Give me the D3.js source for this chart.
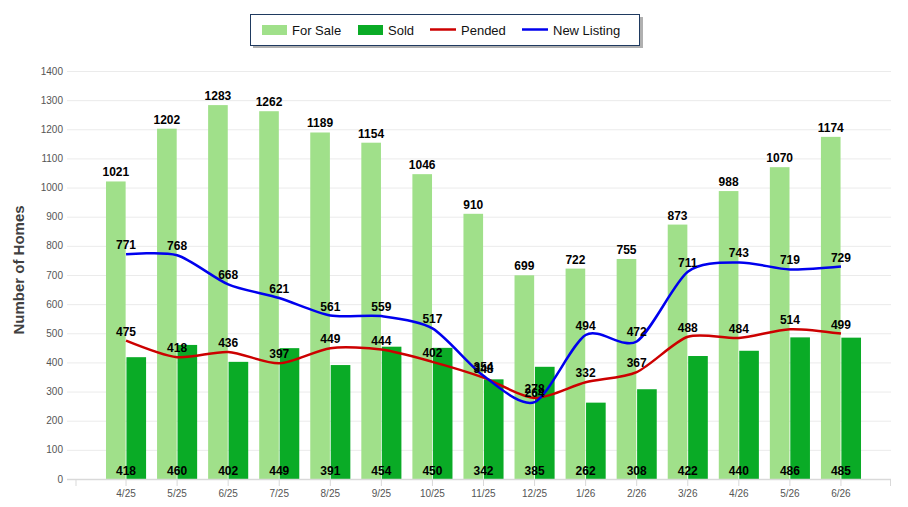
<!DOCTYPE html>
<html>
<head>
<meta charset="utf-8">
<script src="https://cdn.jsdelivr.net/npm/d3@7"></script>
<style>
  body { margin: 0; background: #fff; }
  svg { display: block; font-family: "Liberation Sans", Arial, sans-serif; }
</style>
</head>
<body>
<div id="chart"></div>
<script>

// Monthly market data
var months = ["4/25", "5/25", "6/25", "7/25", "8/25", "9/25", "10/25", "11/25",
              "12/25", "1/26", "2/26", "3/26", "4/26", "5/26", "6/26"];
var forSale = [1021, 1202, 1283, 1262, 1189, 1154, 1046, 910, 699, 722, 755, 873, 988, 1070, 1174];
var sold = [418, 460, 402, 449, 391, 454, 450, 342, 385, 262, 308, 422, 440, 486, 485];
var pended = [475, 418, 436, 397, 449, 444, 402, 348, 278, 332, 367, 488, 484, 514, 499];
var newListing = [771, 768, 668, 621, 561, 559, 517, 354, 264, 494, 472, 711, 743, 719, 729];
var yTicks = [0, 100, 200, 300, 400, 500, 600, 700, 800, 900, 1000, 1100, 1200, 1300, 1400];

var W = 908, H = 507;
var plotLeft = 67, plotRight = 891, plotTop = 71, plotBottom = 479;

var colors = {
  forSale: "#a0e08a",
  sold: "#0aab26",
  pended: "#cc0000",
  newListing: "#0000ee"
};

var svg = d3.select("#chart")
  .append("svg")
  .attr("width", W)
  .attr("height", H);

var x = d3.scaleBand()
  .domain(months)
  .range([100.5, 866.5])
  .paddingInner(0.215)
  .paddingOuter(0.1075);

var x1 = d3.scaleBand()
  .domain(["forSale", "sold"])
  .range([0, x.bandwidth()])
  .paddingInner(0.04);

var y = d3.scaleLinear()
  .domain([0, 1400])
  .range([plotBottom, plotTop]);

var cx = d => x(d) + x.bandwidth() / 2;

// gridlines
svg.append("g")
  .selectAll("line")
  .data(yTicks.slice(1))
  .enter()
  .append("line")
  .attr("x1", plotLeft)
  .attr("x2", plotRight)
  .attr("y1", d => y(d) + 0.5)
  .attr("y2", d => y(d) + 0.5)
  .attr("stroke", "#ebebeb")
  .attr("stroke-width", 1);

// y tick labels
svg.append("g")
  .selectAll("text")
  .data(yTicks)
  .enter()
  .append("text")
  .attr("x", 63)
  .attr("y", d => y(d) + 3.5)
  .attr("text-anchor", "end")
  .attr("font-size", "10px")
  .attr("fill", "#555")
  .text(d => d);

// axis title
svg.append("text")
  .attr("transform", "translate(24,270) rotate(-90)")
  .attr("text-anchor", "middle")
  .attr("font-size", "15px")
  .attr("font-weight", "bold")
  .attr("fill", "#404040")
  .text("Number of Homes");

// bars
var groups = svg.append("g")
  .selectAll("g")
  .data(months)
  .enter()
  .append("g")
  .attr("transform", d => "translate(" + x(d) + ",0)");

groups.append("rect")
  .attr("x", x1("forSale"))
  .attr("width", x1.bandwidth())
  .attr("y", (d, i) => y(forSale[i]))
  .attr("height", (d, i) => plotBottom - y(forSale[i]))
  .attr("fill", colors.forSale);

groups.append("rect")
  .attr("x", x1("sold"))
  .attr("width", x1.bandwidth())
  .attr("y", (d, i) => y(sold[i]))
  .attr("height", (d, i) => plotBottom - y(sold[i]))
  .attr("fill", colors.sold);

// x axis line + ticks
svg.append("line")
  .attr("x1", plotLeft)
  .attr("x2", plotRight)
  .attr("y1", plotBottom + 0.5)
  .attr("y2", plotBottom + 0.5)
  .attr("stroke", "#d9d9d9")
  .attr("stroke-width", 1.5);

var tickXs = [76].concat(months.map(cx)).concat([plotRight - 0.5]);
svg.append("g")
  .selectAll("line")
  .data(tickXs)
  .enter()
  .append("line")
  .attr("x1", d => d)
  .attr("x2", d => d)
  .attr("y1", plotBottom)
  .attr("y2", plotBottom + 7)
  .attr("stroke", "#d9d9d9");

svg.append("g")
  .selectAll("text")
  .data(months)
  .enter()
  .append("text")
  .attr("x", d => cx(d))
  .attr("y", 497)
  .attr("text-anchor", "middle")
  .attr("font-size", "10px")
  .attr("fill", "#555")
  .text(d => d);

// lines
var line = d3.line()
  .x((d, i) => cx(months[i]))
  .y(d => y(d))
  .curve(d3.curveCardinal.tension(0.2));

svg.append("path")
  .datum(pended)
  .attr("d", line)
  .attr("fill", "none")
  .attr("stroke", colors.pended)
  .attr("stroke-width", 2.5);

svg.append("path")
  .datum(newListing)
  .attr("d", line)
  .attr("fill", "none")
  .attr("stroke", colors.newListing)
  .attr("stroke-width", 2.5);

// value labels
function labels(vals, xf, yf) {
  svg.append("g")
    .selectAll("text")
    .data(vals)
    .enter()
    .append("text")
    .attr("x", (d, i) => xf(i))
    .attr("y", (d, i) => yf(d, i))
    .attr("text-anchor", "middle")
    .attr("font-size", "12px")
    .attr("font-weight", "bold")
    .attr("fill", "#000")
    .text(d => d);
}

labels(forSale, i => x(months[i]) + x1("forSale") + x1.bandwidth() / 2, d => y(d) - 5);
labels(sold, i => cx(months[i]), () => 475);
labels(pended, i => cx(months[i]), d => y(d) - 5);
labels(newListing, i => cx(months[i]), d => y(d) - 5);

// legend
var legend = svg.append("g");

legend.append("rect")
  .attr("x", 253)
  .attr("y", 17)
  .attr("width", 390)
  .attr("height", 31)
  .attr("fill", "#b0b0b0");

legend.append("rect")
  .attr("x", 250.5)
  .attr("y", 14.5)
  .attr("width", 389)
  .attr("height", 31)
  .attr("fill", "#fff")
  .attr("stroke", "#1f3a60")
  .attr("stroke-width", 1);

var items = [
  {name: "For Sale", kind: "box", color: colors.forSale, x: 262, tx: 292},
  {name: "Sold", kind: "box", color: colors.sold, x: 358, tx: 388},
  {name: "Pended", kind: "line", color: colors.pended, x: 430, tx: 461},
  {name: "New Listing", kind: "line", color: colors.newListing, x: 522, tx: 553}
];

items.forEach(function(it) {
  if (it.kind == "box") {
    legend.append("rect")
      .attr("x", it.x)
      .attr("y", 25)
      .attr("width", 25)
      .attr("height", 10)
      .attr("fill", it.color);
  } else {
    legend.append("line")
      .attr("x1", it.x)
      .attr("x2", it.x + 26)
      .attr("y1", 29.5)
      .attr("y2", 29.5)
      .attr("stroke", it.color)
      .attr("stroke-width", 2.5);
  }
  legend.append("text")
    .attr("x", it.tx)
    .attr("y", 34.5)
    .attr("font-size", "13px")
    .attr("fill", "#111")
    .text(it.name);
});

</script>
</body>
</html>
